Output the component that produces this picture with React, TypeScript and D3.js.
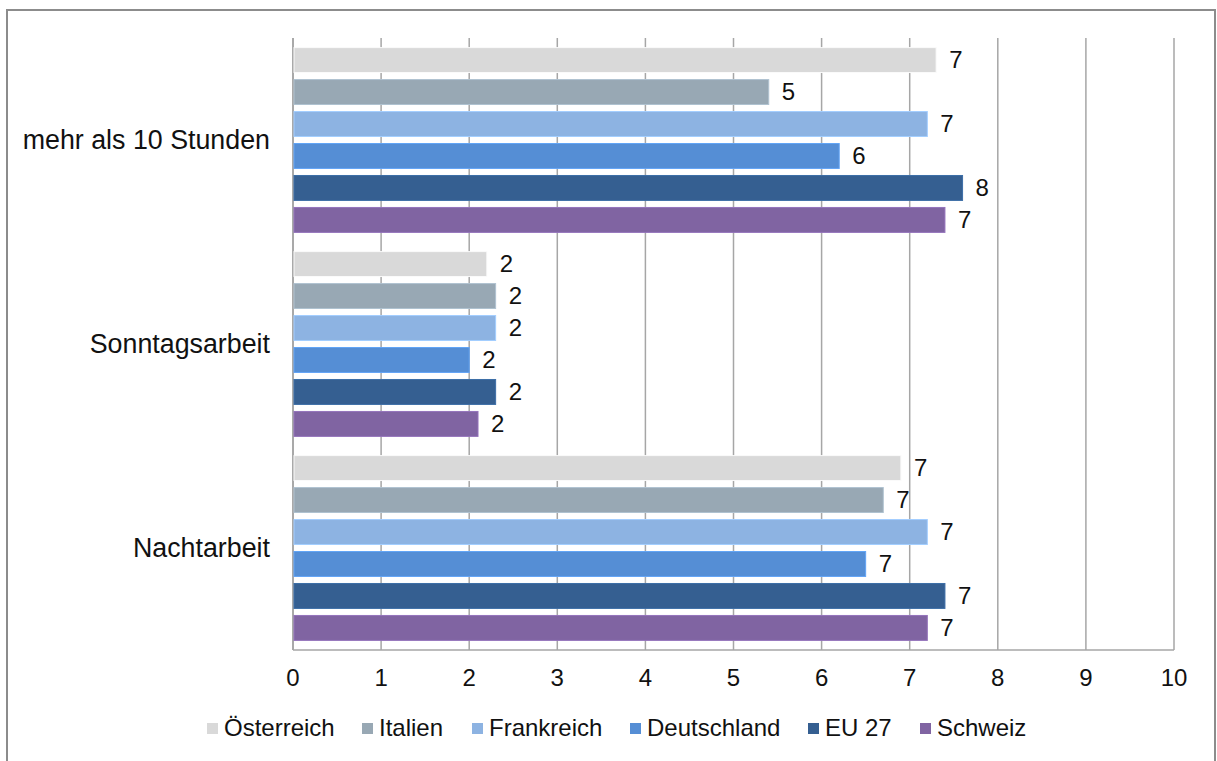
import React from "react";
import * as d3 from "d3";

const categories = ["mehr als 10 Stunden", "Sonntagsarbeit", "Nachtarbeit"];
const seriesNames = ["Österreich", "Italien", "Frankreich", "Deutschland", "EU 27", "Schweiz"];
const seriesColors = ["#d9d9d9", "#98a8b4", "#8db3e2", "#558ed5", "#355f91", "#8064a2"];
const oesterreich = [7.3, 2.2, 6.9];
const italien = [5.4, 2.3, 6.7];
const frankreich = [7.2, 2.3, 7.2];
const deutschland = [6.2, 2.0, 6.5];
const eu27 = [7.6, 2.3, 7.4];
const schweiz = [7.4, 2.1, 7.2];
const xTicks = [0, 1, 2, 3, 4, 5, 6, 7, 8, 9, 10];

const seriesValues = [oesterreich, italien, frankreich, deutschland, eu27, schweiz];

export default function App() {
  const W = 1217, H = 761;
  const left = 293, right = 1174, top = 38, bottom = 650;
  const font = "Liberation Sans, Arial, sans-serif";

  const x = d3.scaleLinear().domain([0, 10]).range([left, right]);
  const y0 = d3.scaleBand<string>().domain(categories).range([top, bottom]).padding(0);
  const y1 = d3.scaleBand<string>().domain(seriesNames).range([0, y0.bandwidth()]).paddingInner(0.22).paddingOuter(0.3);

  const legendX = [207, 362, 472, 630, 808, 920];

  return (
    <svg width={W} height={H} style={{ position: "absolute", left: 0, top: 0, background: "#fff" }} fontFamily={font}>
      <rect x={0} y={0} width={W} height={H} fill="#fff" />
      <rect x={7} y={10} width={1208} height={760} fill="#fff" stroke="#8c8c8c" strokeWidth={2} />
      {xTicks.map((t) => (
        <line key={"g" + t} x1={x(t)} x2={x(t)} y1={top} y2={bottom} stroke={t === 0 ? "#8c8c8c" : "#a6a6a6"} strokeWidth={1.5} />
      ))}
      <line x1={left} x2={right} y1={bottom} y2={bottom} stroke="#a6a6a6" strokeWidth={1.5} />
      {categories.map((c, ci) => (
        <g key={c} transform={`translate(0,${y0(c)})`}>
          {seriesNames.map((s, si) => {
            const v = seriesValues[si][ci];
            const yy = y1(s)!;
            return (
              <g key={s}>
                <rect x={x(0) + 1} y={yy} width={x(v) - x(0) - 1} height={y1.bandwidth()} fill={seriesColors[si]} stroke={d3.color(seriesColors[si])!.brighter(0.4).toString()} strokeWidth={1} />
                <text x={x(v) + 13} y={yy + y1.bandwidth() / 2} dy="0.35em" fontSize={24} fill="#111">{Math.round(v)}</text>
              </g>
            );
          })}
          <text x={270} y={y0.bandwidth() / 2} dy="0.35em" textAnchor="end" fontSize={26.8} fill="#111">{c}</text>
        </g>
      ))}
      {xTicks.map((t) => (
        <text key={"t" + t} x={x(t)} y={678} dy="0.35em" textAnchor="middle" fontSize={24} fill="#111">{t}</text>
      ))}
      {seriesNames.map((s, si) => (
        <g key={"l" + s} transform={`translate(${legendX[si]},728)`}>
          <rect x={0} y={-5} width={11} height={11} fill={seriesColors[si]} />
          <text x={17} y={0} dy="0.35em" fontSize={24} fill="#111">{s}</text>
        </g>
      ))}
    </svg>
  );
}
